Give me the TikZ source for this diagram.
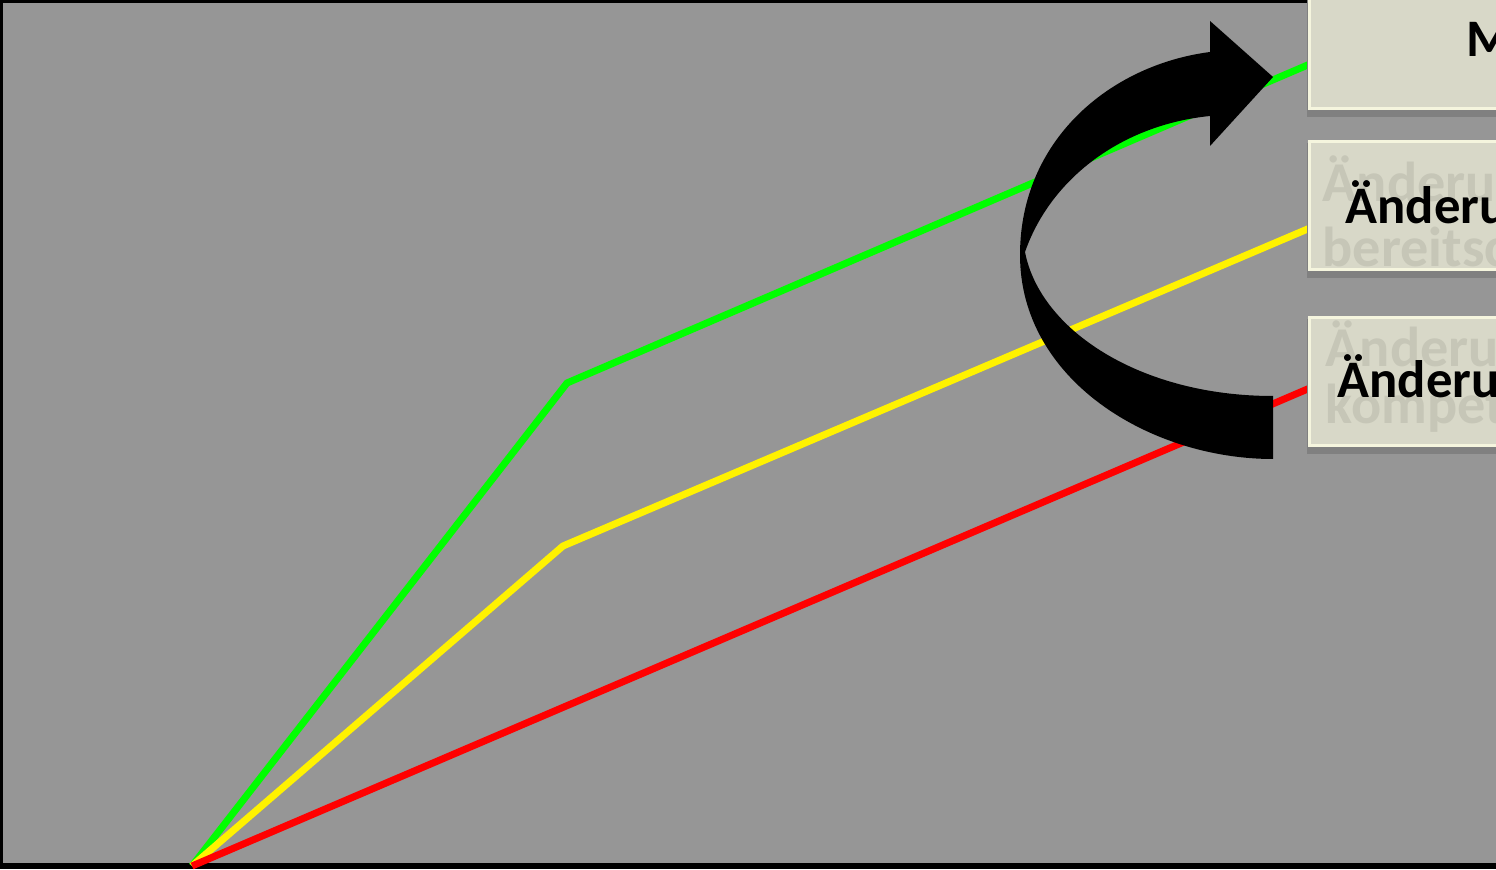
\documentclass[tikz,border=0pt]{standalone}
\usepackage{fontspec}
\setmainfont{Carlito}
\definecolor{bggray}{RGB}{150,150,150}
\definecolor{boxfill}{RGB}{216,216,200}
\definecolor{boxedge}{RGB}{245,245,222}
\definecolor{ghost}{RGB}{198,198,183}
\begin{document}
\begin{tikzpicture}[
                      trend/.style = {line width=2pt, line join=round},
                      stagebox/.style = {rectangle, draw=boxedge, line width=0.8pt, fill=boxfill, anchor=south west, minimum width=3cm, inner sep=0pt},
                      boxshadow/.style = {fill=black!50, draw=none},
                      bigtext/.style = {anchor=base west, inner sep=0pt, font=\bfseries\fontsize{15}{18}\selectfont},
                      ghosttext/.style = {anchor=base west, inner sep=0pt, text=ghost, font=\bfseries\fontsize{16}{19}\selectfont}
                  ]
                  \useasboundingbox (0,0) rectangle (14.96,8.69);
                  \clip (0,0) rectangle (14.96,8.69);
                  \fill[bggray] (0,0) rectangle (14.96,8.69);
                  % frame
                  \draw[line width=0.9pt] (0.015,0.03) -- (0.015,8.675) -- (14.96,8.675);
                  \draw[line width=1.7pt] (0,0.03) -- (14.96,0.03);
                  % trend lines
                  \coordinate (origin) at (1.92,0.03);
                  \coordinate (gkink) at (5.67,4.86);
                  \coordinate (ykink) at (5.63,3.23);
                  \coordinate (gend) at (13.10,8.05);
                  \coordinate (yend) at (13.10,6.41);
                  \coordinate (rend) at (13.10,4.81);
                  \draw[trend, green] (origin) -- (gkink) -- (gend);
                  \draw[trend, yellow] (origin) -- (ykink) -- (yend);
                  \draw[trend, red] (origin) -- (rend);
                  % curved arrow
                  \fill[black] (12.10,8.17) .. controls (11.10,8.04) and (10.20,7.29) .. (10.20,6.14)
                      .. controls (10.20,4.89) and (11.50,4.10) .. (12.73,4.10) -- (12.73,4.73)
                      .. controls (11.40,4.73) and (10.40,5.39) .. (10.25,6.17)
                      .. controls (10.50,6.89) and (11.20,7.44) .. (12.10,7.53)
                      -- (12.10,7.23) -- (12.73,7.92) -- (12.10,8.48) -- cycle;
                  % boxes
                  \fill[boxshadow] (13.07,7.52) rectangle (15.2,8.7);
                  \fill[boxshadow] (13.07,5.91) rectangle (15.2,7.26);
                  \fill[boxshadow] (13.07,4.15) rectangle (15.2,5.50);
                  \node[stagebox, minimum height=1.25cm] (motiv) at (13.08,7.59) {};
                  \node[stagebox, minimum height=1.28cm] (bereit) at (13.08,5.98) {};
                  \node[stagebox, minimum height=1.28cm] (kompet) at (13.08,4.22) {};
                  % texts
                  \node[ghosttext] (bereitg1) at (13.22,6.67) {Änderu};
                  \node[ghosttext] (bereitg2) at (13.22,6.02) {bereitsc};
                  \node[ghosttext] (kompetg1) at (13.25,5.02) {Änderu};
                  \node[ghosttext] (kompetg2) at (13.25,4.45) {kompet};
                  \node[bigtext] (motivt) at (14.66,8.12) {M};
                  \node[bigtext] (bereitt) at (13.45,6.45) {Änderu};
                  \node[bigtext] (kompett) at (13.37,4.71) {Änderu};
              \end{tikzpicture}
\end{document}
